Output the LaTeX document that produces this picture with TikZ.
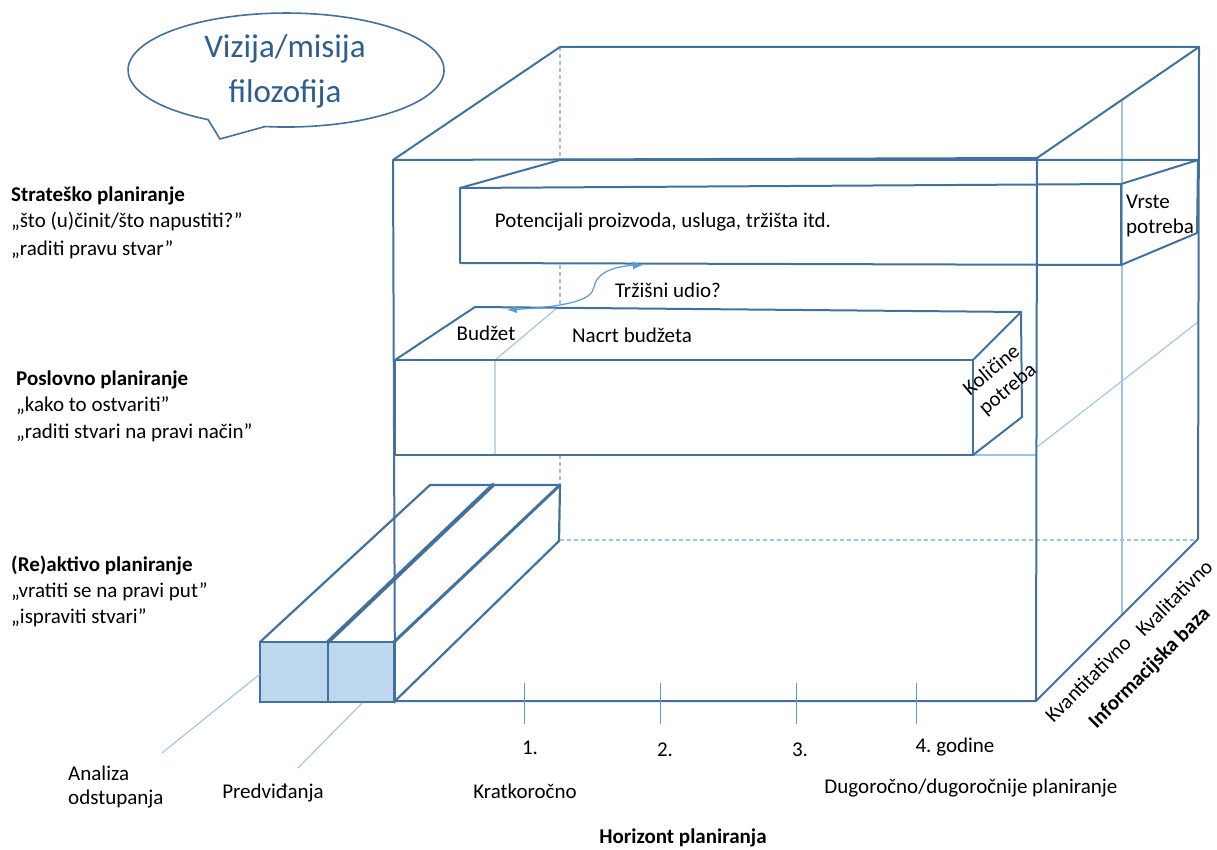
\documentclass[tikz,border=0pt]{standalone}
\usepackage{fontspec}
\setmainfont{Carlito}
\usetikzlibrary{arrows.meta}
\definecolor{edge}{HTML}{41719C}
\definecolor{lite}{HTML}{9DC3E6}
\definecolor{fillb}{HTML}{BDD7EE}
\definecolor{bubtxt}{HTML}{2E5E8E}
\definecolor{arr}{HTML}{5B9BD5}
\frenchspacing
\begin{document}
\begin{tikzpicture}[x=1pt,y=-1pt,
  edgeline/.style={draw=edge,line width=2pt,line join=round,line cap=round},
  thinline/.style={draw=lite,line width=1.1pt},
  hiddenline/.style={draw=lite,line width=1.1pt,dash pattern=on 4pt off 3pt},
  lbl/.style={font=\fontsize{21}{25}\selectfont,inner sep=0pt,text=black},
  blbl/.style={font=\fontsize{21}{25}\selectfont\bfseries,inner sep=0pt,text=black},
  tick/.style={draw=arr,line width=1pt}]
\useasboundingbox (0,0) rectangle (1217,850);

% hidden (dashed) edges of the big box
\draw[hiddenline] (560,47) -- (560,160);
\draw[hiddenline] (560,265) -- (560,308);
\draw[hiddenline] (560,455) -- (560,485);
\draw[hiddenline] (560,540) -- (1198,540);

% thin light lines
\draw[thinline] (1122,100) -- (1122,615);
\draw[thinline] (1037,447) -- (1198,322);
\draw[thinline] (495,455) -- (495,360) -- (557,308);
\draw[thinline] (973,455) -- (1037,455);

% big box
\draw[edgeline] (393,160) -- (560,47) -- (1199,47) -- (1037,158);
\draw[edgeline] (393,160) -- (1037,158) -- (1036,701) -- (395,701) -- cycle;
\draw[edgeline] (1199,47) -- (1198,539) -- (1036,701);

% strategic box
\draw[edgeline] (460,188) -- (1121,184) -- (1121,265) -- (460,263) -- cycle;
\draw[edgeline] (460,188) -- (560,160) -- (1198,160) -- (1121,184);
\draw[edgeline] (1198,160) -- (1197,233) -- (1121,265);
\draw[edgeline] (1037,160) -- (1198,160);

% business box
\draw[edgeline] (395,360) -- (973,360) -- (973,455) -- (395,455) -- cycle;
\draw[edgeline] (395,360) -- (475,307) -- (1021,312) -- (973,360);
\draw[edgeline] (1021,312) -- (1022,417) -- (973,455);

% reactive (long) box
\filldraw[fill=fillb,draw=edge,line width=2.5pt] (260,642) rectangle (394,702);
\draw[edge,line width=2.5pt] (328,642) -- (328,702);
\draw[edgeline,line width=2.2pt] (260,642) -- (430,485) -- (560,485) -- (559,541) -- (394,702);
\draw[edgeline,line width=4pt] (328,642) -- (493,485);
\draw[edgeline,line width=3pt] (394,642) -- (560,485);
\draw[edgeline,line width=3pt] (394,642) -- (394,702);

% time axis ticks
\draw[tick] (524,683) -- (524,724);
\draw[tick] (660,683) -- (660,724);
\draw[tick] (796,683) -- (796,724);
\draw[tick] (916,683) -- (916,724);

% speech bubble
\draw[edge,line width=1.6pt,fill=white] (208.0,119.6) arc[start angle=119.6,end angle=457.6,x radius=158,y radius=57] -- (220,139) -- cycle;
\node[font=\fontsize{33}{37}\selectfont,text=bubtxt,inner sep=0pt] (viz) at (285,49) {Vizija/misija};
\node[font=\fontsize{33}{37}\selectfont,text=bubtxt,inner sep=0pt] (filo) at (285,94) {filozofija};

% left labels
\node[blbl,anchor=base west] (s1) at (11,202) {Strateško planiranje};
\node[lbl,anchor=base west] (s2) at (11,228) {„što (u)činit/što napustiti?”};
\node[lbl,anchor=base west] (s3) at (11,255) {„raditi pravu stvar”};
\node[blbl,anchor=base west] (p1) at (16,385) {Poslovno planiranje};
\node[lbl,anchor=base west] (p2) at (16,411) {„kako to ostvariti”};
\node[lbl,anchor=base west] (p3) at (16,438) {„raditi stvari na pravi način”};
\node[blbl,anchor=base west] (r1) at (11,571) {(Re)aktivo planiranje};
\node[lbl,anchor=base west] (r2) at (11,597) {„vratiti se na pravi put”};
\node[lbl,anchor=base west] (r3) at (11,623) {„ispraviti stvari”};

% box labels
\node[lbl] (pot) at (663,222) {Potencijali proizvoda, usluga, tržišta itd.};
\node[lbl,anchor=west] (vr1) at (1126,202) {Vrste};
\node[lbl,anchor=west] (vr2) at (1126,228) {potreba};
\node[lbl] (trz) at (668,290) {Tržišni udio?};
\node[lbl] (bud) at (486,333) {Budžet};
\node[lbl] (nac) at (632,335) {Nacrt budžeta};
\node[lbl,rotate=40,align=center,font=\fontsize{21}{25}\selectfont] (kol) at (1000,380) {Količine\\potreba};

% market share arrow
\draw[arr,line width=1.2pt,{Latex[length=10pt,width=8pt]}-{Latex[length=10pt,width=8pt]}]
  (507,310) .. controls (570,306) and (592,300) .. (594,287) .. controls (597,270) and (620,266) .. (643,265);

% bottom labels
\node[lbl] (y1) at (530,748) {1.};
\node[lbl] (y2) at (665,750) {2.};
\node[lbl] (y3) at (800,750) {3.};
\node[lbl] (y4) at (955,747) {4. godine};
\node[lbl] (kra) at (525,791) {Kratkoročno};
\node[lbl] (dug) at (971,788) {Dugoročno/dugoročnije planiranje};
\node[blbl] (hor) at (683,838) {Horizont planiranja};

% information base labels
\node[lbl,rotate=45] (kvan) at (1088,679) {Kvantitativno};
\node[lbl,rotate=45] (kval) at (1174,598) {Kvalitativno};
\node[blbl,rotate=45] (info) at (1150,668) {Informacijska baza};

% analysis / forecast labels and leaders
\node[lbl,anchor=west] (an1) at (68,773) {Analiza};
\node[lbl,anchor=west] (an2) at (68,799) {odstupanja};
\node[lbl] (pred) at (273,793) {Predviđanja};
\coordinate (anl) at (162,753);
\coordinate (prl) at (298,768);
\coordinate (anb) at (260,674);
\coordinate (prb) at (362,703);
\draw[thinline] (anb) -- (anl);
\draw[thinline] (prb) -- (prl);
\end{tikzpicture}
\end{document}
